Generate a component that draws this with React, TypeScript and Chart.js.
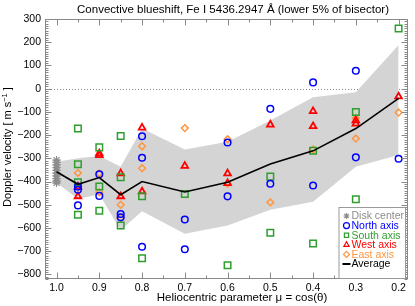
import React, { useEffect, useRef } from 'react';
import { Chart, registerables } from 'chart.js';
import { drawPoint } from 'chart.js/helpers';

Chart.register(...registerables);

const FONT = '"Liberation Sans", Arial, Helvetica, sans-serif';

// ---- axis ticks ----
const MU_TICKS = [1.0, 0.9, 0.8, 0.7, 0.6, 0.5, 0.4, 0.3, 0.2];
const V_TICKS = [300, 200, 100, 0, -100, -200, -300, -400, -500, -600, -700, -800];

// ---- data ----
const diskMu = [1, 1, 1, 1, 1, 1, 1, 1, 1, 1];
const diskV = [-308, -318, -328, -340, -352, -364, -376, -388, -398, -406];

const northMu = [0.95, 0.95, 0.95, 0.9, 0.9, 0.85, 0.85, 0.8, 0.8, 0.8, 0.7, 0.7, 0.6, 0.6, 0.5, 0.5, 0.4, 0.4, 0.3, 0.3, 0.2];
const northV = [-422, -436, -503, -369, -462, -540, -554, -205, -298, -681, -564, -692, -232, -464, -87, -410, 27, -417, 77, -296, -302];

const southMu = [0.95, 0.95, 0.95, 0.95, 0.9, 0.9, 0.9, 0.85, 0.85, 0.85, 0.8, 0.8, 0.7, 0.6, 0.5, 0.5, 0.4, 0.4, 0.3, 0.3, 0.2];
const southV = [-172, -326, -403, -543, -253, -422, -526, -204, -382, -590, -464, -731, -454, -761, -379, -621, -268, -667, -101, -476, 259];

const westMu = [0.95, 0.95, 0.9, 0.9, 0.85, 0.85, 0.8, 0.8, 0.7, 0.6, 0.6, 0.5, 0.4, 0.4, 0.3, 0.3, 0.2];
const westV = [-422, -464, -279, -287, -365, -464, -168, -443, -333, -365, -407, -155, -97, -162, -137, -151, -34];

const eastMu = [0.95, 0.9, 0.9, 0.85, 0.85, 0.8, 0.8, 0.7, 0.6, 0.6, 0.5, 0.4, 0.3, 0.3, 0.2];
const eastV = [-363, -365, -446, -500, -557, -248, -343, -170, -218, -410, -490, -262, -127, -215, -103];

const avgMu = [1.0, 0.95, 0.9, 0.85, 0.8, 0.7, 0.6, 0.5, 0.4, 0.3, 0.2];
const avgV = [-358, -412, -383, -457, -400, -445, -403, -325, -268, -172, -42];
const bandUpper = [-315, -300, -290, -336, -172, -262, -229, -137, -37, -16, 188];
const bandLower = [-405, -475, -455, -610, -528, -625, -590, -522, -487, -336, -286];

const TITLE = 'Convective blueshift, Fe I 5436.2947 Å (lower 5% of bisector)';
const X_TITLE = 'Heliocentric parameter μ = cos(θ)';
const LEGEND = ['Disk center', 'North axis', 'South axis', 'West axis', 'East axis', 'Average'];

const X_MIN = 0.178;
const X_MAX = 1.027;
const Y_MIN = -820;
const Y_MAX = 300;

const GREY = '#8c8c8c';
const BLUE = '#0000ff';
const GREEN = '#2f9e2f';
const RED = '#ff0000';
const ORANGE = '#ff9640';

const pts = (mu: number[], v: number[]) => mu.map((m, i) => ({ x: m, y: v[i] }));

const fmtV = (v: number) => (v < 0 ? '\u2212' + Math.abs(v) : String(v));

const decor = {
  id: 'decor',
  beforeDatasetsDraw(chart: any) {
    const { ctx, chartArea: a, scales } = chart;
    const y0 = Math.round(scales.y.getPixelForValue(0)) + 0.5;
    ctx.save();
    ctx.strokeStyle = '#8a8a8a';
    ctx.lineWidth = 1;
    ctx.setLineDash([1, 2]);
    ctx.beginPath();
    ctx.moveTo(a.left, y0);
    ctx.lineTo(a.right, y0);
    ctx.stroke();
    ctx.restore();
  },
  afterDraw(chart: any) {
    const { ctx, chartArea: a, scales } = chart;
    const xs = scales.x;
    const ys = scales.y;
    ctx.save();
    // frame
    ctx.strokeStyle = '#888';
    ctx.lineWidth = 1;
    const L = Math.round(a.left) + 0.5, R = Math.round(a.right) - 0.5;
    const T = Math.round(a.top) + 0.5, B = Math.round(a.bottom) - 0.5;
    ctx.strokeRect(L, T, R - L, B - T);
    ctx.beginPath();
    // x ticks
    const xt = (v: number, len: number) => {
      const p = Math.round(xs.getPixelForValue(v)) + 0.5;
      ctx.moveTo(p, B); ctx.lineTo(p, B - len);
      ctx.moveTo(p, T); ctx.lineTo(p, T + len);
    };
    MU_TICKS.forEach((m) => xt(m, 6));
    for (let i = 0; i < MU_TICKS.length - 1; i++) xt((MU_TICKS[i] + MU_TICKS[i + 1]) / 2, 3);
    // y ticks
    const yt = (v: number, len: number) => {
      const p = Math.round(ys.getPixelForValue(v)) + 0.5;
      ctx.moveTo(L, p); ctx.lineTo(L + len, p);
      ctx.moveTo(R, p); ctx.lineTo(R - len, p);
    };
    V_TICKS.forEach((v) => yt(v, 6));
    for (let v = Math.ceil(Y_MIN / 10) * 10; v <= Y_MAX; v += 10) {
      if (v % 100 !== 0) yt(v, 3);
    }
    ctx.stroke();

    // titles
    ctx.fillStyle = '#000';
    ctx.textAlign = 'center';
    ctx.textBaseline = 'middle';
    ctx.font = `11.5px ${FONT}`;
    ctx.fillText(TITLE, 233, 9.5);
    ctx.fillText(X_TITLE, 242, 297.5);

    // y title with superscript
    ctx.save();
    ctx.translate(8, 147);
    ctx.rotate(-Math.PI / 2);
    const p1 = 'Doppler velocity [ m s';
    const sup = '\u22121';
    const p3 = ' ]';
    ctx.font = `11px ${FONT}`;
    const w1 = ctx.measureText(p1).width;
    const w3 = ctx.measureText(p3).width;
    ctx.font = `7.5px ${FONT}`;
    const w2 = ctx.measureText(sup).width;
    const total = w1 + w2 + w3;
    let x0 = -total / 2;
    ctx.textAlign = 'left';
    ctx.font = `11px ${FONT}`;
    ctx.fillText(p1, x0, 0);
    ctx.font = `7.5px ${FONT}`;
    ctx.fillText(sup, x0 + w1, -3.5);
    ctx.font = `11px ${FONT}`;
    ctx.fillText(p3, x0 + w1 + w2, 0);
    ctx.restore();

    // legend
    const lr = R - 2, lb = B, lt = 207.5, ll = lr - 66.5;
    ctx.fillStyle = '#fff';
    ctx.fillRect(ll, lt, lr - ll, lb - lt);
    ctx.strokeStyle = '#9a9a9a';
    ctx.lineWidth = 1;
    ctx.strokeRect(ll, lt, lr - ll, lb - lt);
    const order = [1, 2, 3, 4, 5, 0];
    ctx.font = `10.5px ${FONT}`;
    ctx.textAlign = 'left';
    ctx.textBaseline = 'middle';
    order.forEach((di, i) => {
      const ds = chart.data.datasets[di];
      const cy = lt + 8.5 + i * 9.6;
      const sx = ll + 7.5;
      ctx.setLineDash([]);
      if (di === 0) {
        ctx.strokeStyle = '#000';
        ctx.lineWidth = 2;
        ctx.beginPath();
        ctx.moveTo(ll + 3.5, cy);
        ctx.lineTo(ll + 11.5, cy);
        ctx.stroke();
      } else {
        ctx.strokeStyle = ds.borderColor;
        ctx.fillStyle = 'rgba(0,0,0,0)';
        ctx.lineWidth = 1.2;
        drawPoint(ctx, { pointStyle: ds.pointStyle, radius: 3, borderWidth: 1.2, rotation: 0 } as any, sx, cy);
      }
      ctx.fillStyle = di === 0 ? '#000' : ds.borderColor;
      ctx.fillText(LEGEND[i], ll + 12.5, cy + 0.5);
    });
    ctx.restore();
  },
};

export default function App() {
  const ref = useRef<HTMLCanvasElement>(null);
  useEffect(() => {
    if (!ref.current) return;
    const marker = (color: string, style: string, radius: number, bw = 1.5) => ({
      borderColor: color,
      backgroundColor: 'rgba(0,0,0,0)',
      pointStyle: style,
      pointRadius: radius,
      pointBorderWidth: bw,
      borderWidth: bw,
      showLine: false,
    });
    const chart = new Chart(ref.current, {
      type: 'scatter',
      data: {
        datasets: [
          {
            data: pts(avgMu, avgV),
            showLine: true,
            borderColor: '#000',
            borderWidth: 1.6,
            pointRadius: 0,
            tension: 0,
            fill: false,
          } as any,
          { data: pts(diskMu, diskV), ...marker(GREY, 'star', 4.2, 1.2) },
          { data: pts(northMu, northV), ...marker(BLUE, 'circle', 3.3) },
          { data: pts(southMu, southV), ...marker(GREEN, 'rect', 4.6) },
          { data: pts(westMu, westV), ...marker(RED, 'triangle', 3.8, 1.8) },
          { data: pts(eastMu, eastV), ...marker(ORANGE, 'rectRot', 3.4) },
          {
            data: pts(avgMu, bandUpper),
            showLine: true,
            borderWidth: 0,
            borderColor: 'rgba(0,0,0,0)',
            backgroundColor: '#d4d4d4',
            pointRadius: 0,
            tension: 0,
            fill: 7,
          } as any,
          {
            data: pts(avgMu, bandLower),
            showLine: true,
            borderWidth: 0,
            borderColor: 'rgba(0,0,0,0)',
            pointRadius: 0,
            tension: 0,
            fill: false,
          } as any,
        ],
      },
      options: {
        responsive: false,
        animation: false,
        devicePixelRatio: 1,
        layout: { padding: { left: 0, right: 7, top: 19, bottom: 0 } },
        plugins: {
          legend: { display: false },
          title: { display: false },
          tooltip: { enabled: false },
        },
        scales: {
          x: {
            type: 'linear',
            reverse: true,
            min: X_MIN,
            max: X_MAX,
            grid: { display: false, drawTicks: false },
            border: { display: false },
            afterBuildTicks: (s: any) => {
              s.ticks = MU_TICKS.map((v) => ({ value: v }));
            },
            afterFit: (s: any) => {
              s.height = 27;
            },
            ticks: {
              autoSkip: false,
              maxRotation: 0,
              color: '#000',
              padding: 3,
              font: { family: FONT, size: 10.5 },
              callback: (v: any) => Number(v).toFixed(1),
            },
          },
          y: {
            type: 'linear',
            min: Y_MIN,
            max: Y_MAX,
            grid: { display: false, drawTicks: false },
            border: { display: false },
            afterBuildTicks: (s: any) => {
              s.ticks = V_TICKS.map((v) => ({ value: v }));
            },
            afterFit: (s: any) => {
              s.width = 45;
            },
            ticks: {
              autoSkip: false,
              color: '#000',
              padding: 4,
              font: { family: FONT, size: 10.5 },
              callback: (v: any) => fmtV(Number(v)),
            },
          },
        },
      } as any,
      plugins: [decor],
    });
    return () => chart.destroy();
  }, []);
  return (
    <div style={{ position: 'fixed', left: 0, top: 0, width: 415, height: 306, background: '#fff' }}>
      <canvas ref={ref} width={415} height={306} style={{ width: 415, height: 306 }} />
    </div>
  );
}
